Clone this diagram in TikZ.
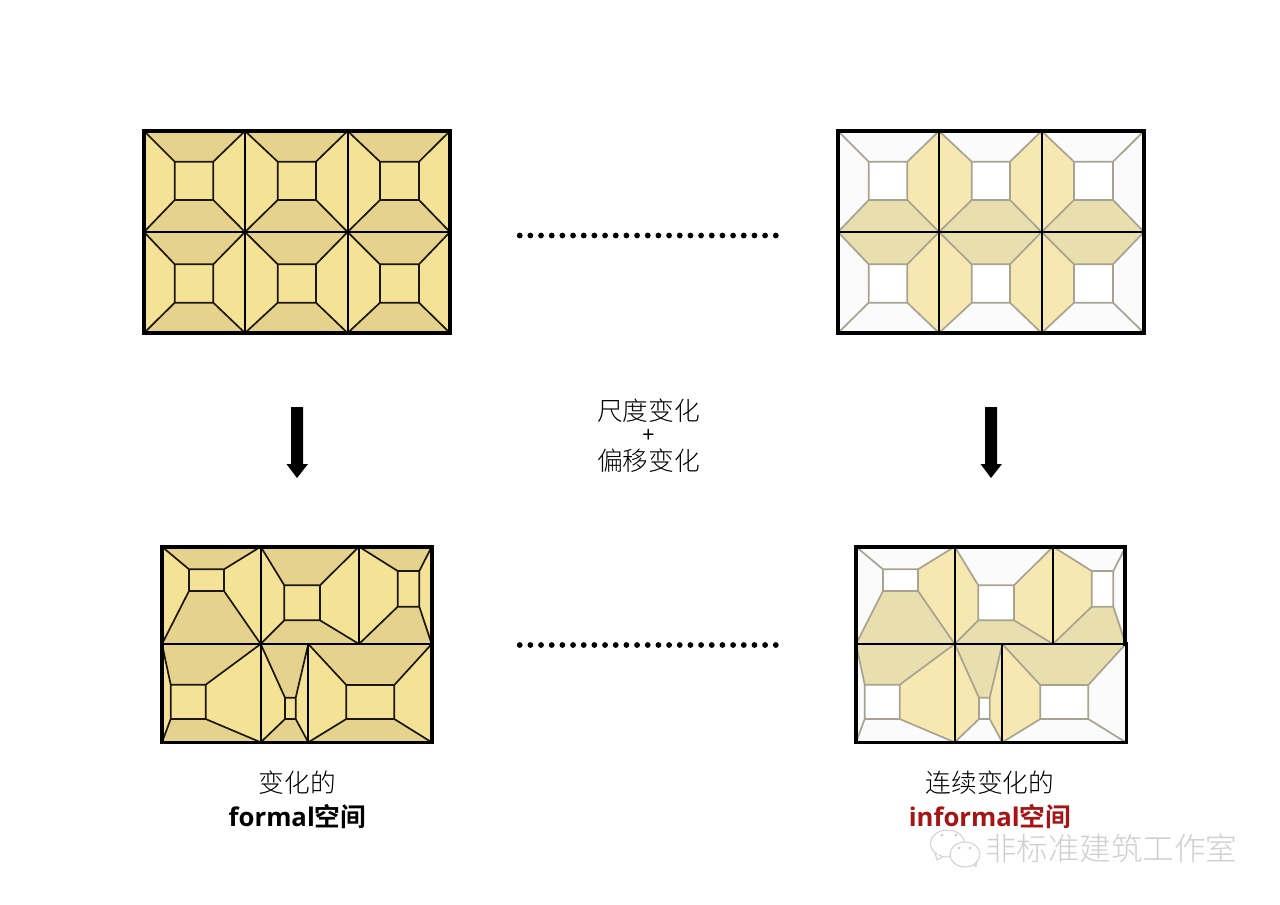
\documentclass[tikz,border=0pt]{standalone}
\usepackage{fontspec}
\setmainfont{Noto Sans CJK SC Light}
\newfontfamily\latb{Open Sans}[BoldFont={* Bold}]
\newfontfamily\cjkb{Noto Sans CJK SC Bold}
\definecolor{lt}{HTML}{F4E297}
\definecolor{dk}{HTML}{E4D28D}
\definecolor{wlt}{HTML}{F6E8B0}
\definecolor{wdk}{HTML}{E9DEAE}
\definecolor{wh}{HTML}{FBFBFB}
\definecolor{gl}{HTML}{A8A391}
\definecolor{ink}{HTML}{1C1708}
\definecolor{redt}{HTML}{A81414}
\definecolor{wm}{HTML}{CFCFCF}
\tikzset{
  frameline/.style={line width=3.6pt,draw=black,line join=miter},
  divline/.style={line width=2pt,draw=black},
  arrowshape/.style={fill=black,draw=none},
  dotrow/.style={fill=black,draw=none},
  lab/.style={font=\fontsize{25.7}{28}\selectfont,inner sep=0pt,anchor=center},
  wmline/.style={draw=wm,line width=1pt,fill=white,line join=round},
}
% \panel{x0}{y0}{x1}{y1}{a}{b}{c}{d}{top}{right}{bottom}{left}{centre}{line colour}
\newcommand{\panel}[9]{%
  \def\pxa{#1}\def\pya{#2}\def\pxb{#3}\def\pyb{#4}\def\pia{#5}\def\pib{#6}\def\pic{#7}\def\pid{#8}\def\ptop{#9}\panelrest}
\newcommand{\panelrest}[5]{%
  \fill[fill=\ptop] (\pxa,\pya)--(\pxb,\pya)--(\pic,\pib)--(\pia,\pib)--cycle;
  \fill[fill=#1] (\pxb,\pya)--(\pxb,\pyb)--(\pic,\pid)--(\pic,\pib)--cycle;
  \fill[fill=#2] (\pxa,\pyb)--(\pxb,\pyb)--(\pic,\pid)--(\pia,\pid)--cycle;
  \fill[fill=#3] (\pxa,\pya)--(\pxa,\pyb)--(\pia,\pid)--(\pia,\pib)--cycle;
  \fill[fill=#4] (\pia,\pib) rectangle (\pic,\pid);
  \draw[draw=#5,line width=1.7pt,line join=round] (\pia,\pib) rectangle (\pic,\pid)
    (\pxa,\pya)--(\pia,\pib) (\pxb,\pya)--(\pic,\pib) (\pxb,\pyb)--(\pic,\pid) (\pxa,\pyb)--(\pia,\pid);
}
\begin{document}
\begin{tikzpicture}[x=1pt,y=-1pt]
\useasboundingbox (0,0) rectangle (1280,905);
\fill[white] (0,0) rectangle (1280,905);
% --- top left
\panel{144}{131}{245}{232}{174.7}{161.7}{213.3}{200}{dk}{lt}{dk}{lt}{lt}{ink}
\panel{245}{131}{347.6}{232}{277.7}{161.7}{316}{200}{dk}{lt}{dk}{lt}{lt}{ink}
\panel{347.6}{131}{450}{232}{380}{161.7}{419}{200}{dk}{lt}{dk}{lt}{lt}{ink}
\panel{144}{232}{245}{333}{174.7}{264.3}{213.3}{302.7}{dk}{lt}{dk}{lt}{lt}{ink}
\panel{245}{232}{347.6}{333}{277.7}{264.3}{316}{302.7}{dk}{lt}{dk}{lt}{lt}{ink}
\panel{347.6}{232}{450}{333}{380}{264.3}{419}{302.7}{dk}{lt}{dk}{lt}{lt}{ink}
\draw[divline,line width=1.8pt] (144,232)--(450,232) (245,131)--(245,333) (347.6,131)--(347.6,333);
\draw[frameline] (144,131) rectangle (450,333);
% --- top right
\begin{scope}[xshift=694pt]
\panel{144}{131}{245}{232}{174.7}{161.7}{213.3}{200}{wh}{wlt}{wdk}{wh}{white}{gl}
\panel{245}{131}{347.6}{232}{277.7}{161.7}{316}{200}{wh}{wlt}{wdk}{wlt}{white}{gl}
\panel{347.6}{131}{450}{232}{380}{161.7}{419}{200}{wh}{wh}{wdk}{wlt}{white}{gl}
\panel{144}{232}{245}{333}{174.7}{264.3}{213.3}{302.7}{wdk}{wlt}{wh}{wh}{white}{gl}
\panel{245}{232}{347.6}{333}{277.7}{264.3}{316}{302.7}{wdk}{wlt}{wh}{wlt}{white}{gl}
\panel{347.6}{232}{450}{333}{380}{264.3}{419}{302.7}{wdk}{wh}{wh}{wlt}{white}{gl}
\draw[divline] (144,232)--(450,232) (245,131)--(245,333) (347.6,131)--(347.6,333);
\draw[frameline] (144,131) rectangle (450,333);
\end{scope}
% --- bottom left
\panel{162}{546.7}{260.7}{644}{189}{569.3}{224}{591}{dk}{lt}{dk}{lt}{lt}{ink}
\panel{260.7}{546.7}{359}{644}{284.3}{585.3}{320}{620.3}{dk}{lt}{dk}{lt}{lt}{ink}
\panel{359}{546.7}{431.7}{644}{397.7}{571}{419.3}{606.7}{dk}{lt}{dk}{lt}{lt}{ink}
\panel{162}{644}{260.7}{742.3}{170.7}{684.7}{205.7}{719}{dk}{lt}{dk}{lt}{lt}{ink}
\panel{260.7}{644}{308.3}{742.3}{285}{697.7}{295.7}{719}{dk}{lt}{dk}{lt}{lt}{ink}
\panel{308.3}{644}{431.7}{742.3}{346.3}{685}{394.3}{719}{dk}{lt}{dk}{lt}{lt}{ink}
\draw[divline,line width=1.8pt] (162,644)--(431.7,644) (260.7,546.7)--(260.7,742.3) (359,546.7)--(359,644) (308.3,644)--(308.3,742.3);
\draw[frameline] (162,546.7) rectangle (431.7,742.3);
% --- bottom right
\begin{scope}[xshift=694pt]
\panel{162}{546.7}{260.7}{644}{189}{569.3}{224}{591}{wh}{wlt}{wdk}{wh}{white}{gl}
\panel{260.7}{546.7}{359}{644}{284.3}{585.3}{320}{620.3}{wh}{wlt}{wdk}{wlt}{white}{gl}
\panel{359}{546.7}{431.7}{644}{397.7}{571}{419.3}{606.7}{wh}{wh}{wdk}{wlt}{white}{gl}
\panel{162}{644}{260.7}{742.3}{170.7}{684.7}{205.7}{719}{wdk}{wlt}{wh}{wh}{white}{gl}
\panel{260.7}{644}{308.3}{742.3}{285}{697.7}{295.7}{719}{wdk}{wlt}{wh}{wlt}{white}{gl}
\panel{308.3}{644}{431.7}{742.3}{346.3}{685}{394.3}{719}{wdk}{wh}{wh}{wlt}{white}{gl}
\draw[divline] (162,644)--(431.7,644) (260.7,546.7)--(260.7,742.3) (359,546.7)--(359,644) (308.3,644)--(308.3,742.3);
\draw[frameline] (162,546.7)--(431,546.7)--(431,644)--(432.5,644)--(432.5,742.3)--(162,742.3)--cycle;
\end{scope}
% --- arrows
\fill[arrowshape] (291,407)--(303,407)--(303,464)--(308,464)--(297,478)--(286.5,464)--(291,464)--cycle;
\fill[arrowshape] (985,407)--(997,407)--(997,464)--(1002,464)--(991,478)--(980.5,464)--(985,464)--cycle;
% --- dots
\foreach \i in {0,...,24} {
  \fill[dotrow] ({519.7+\i*10.67},235.5) circle (2.9);
  \fill[dotrow] ({519.7+\i*10.67},645) circle (2.9);
}
% --- labels
\node[lab] (t1) at (648.5,411) {尺度变化};
\node[lab,font=\fontsize{22}{22}\selectfont\latb] (t2) at (648.5,436) {+};
\node[lab] (t3) at (648.5,461) {偏移变化};
\node[lab] (t4) at (297.5,783) {变化的};
\node[lab] (t5) at (297.5,817) {{\latb\bfseries formal}{\cjkb 空间}};
\node[lab] (t6) at (990,783) {连续变化的};
\node[lab,text=redt] (t7) at (990,817) {{\latb\bfseries informal}{\cjkb 空间}};
% --- watermark
\node[lab,text=wm,font=\fontsize{31.5}{33}\selectfont,anchor=west] (wmk) at (985,848) {非标准建筑工作室};
\draw[wmline] (935,853)--(937,860)--(944,856)--cycle;
\draw[wmline] (947.5,843.5) ellipse (17 and 13.5);
\fill[white] (936,850) -- (941,854) -- (938,855) -- cycle;
\draw[wmline] (972,862)--(976,867)--(977,856)--cycle;
\draw[wmline] (965,854.5) ellipse (15 and 12.5);
\fill[white] (971,860) -- (974,856) -- (975,861) -- cycle;
\fill[wm] (942,835) circle (1.6) (956,835) circle (1.6) (959,848) circle (1.5) (970,848) circle (1.5);
\end{tikzpicture}
\end{document}
